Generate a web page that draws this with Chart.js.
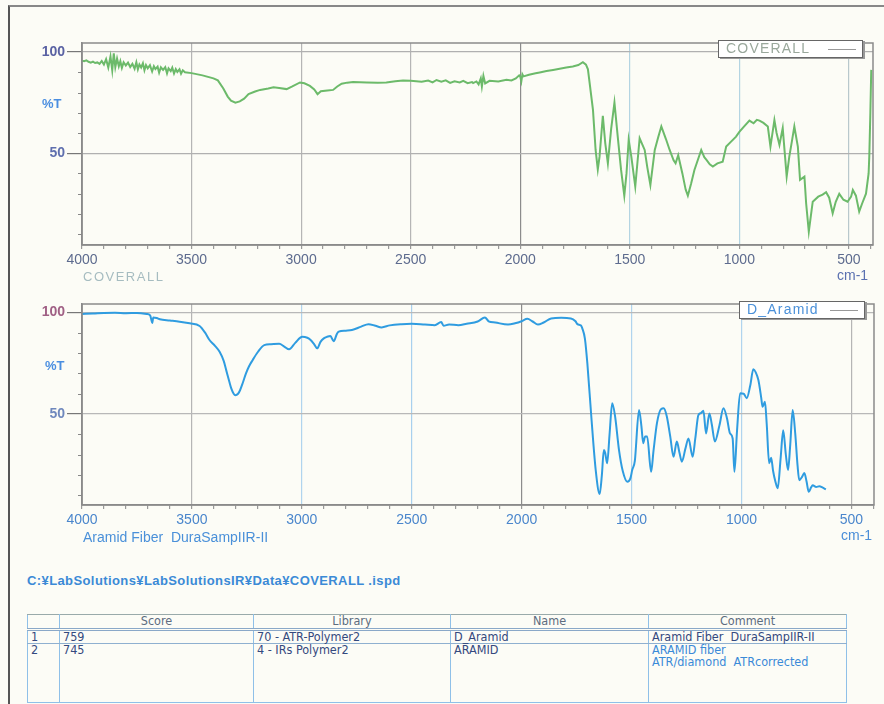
<!DOCTYPE html>
<html>
<head>
<meta charset="utf-8">
<script src="https://cdn.jsdelivr.net/npm/chart.js@4.4.0/dist/chart.umd.min.js"></script>
<style>
  body { margin: 0; background: #fcfcf6; width: 884px; height: 704px; overflow: hidden; position: relative; font-family: "Liberation Sans", Arial, sans-serif; }
  .frame { position: absolute; left: 8px; top: 5px; width: 890px; height: 720px; border-left: 2px solid #555; border-top: 2px solid #888; }
  canvas { position: absolute; }
  .lbl { position: absolute; white-space: nowrap; line-height: 1; }
  .legend { position: absolute; background: #fff; border: 1.5px solid #666; box-shadow: 2px 1px 0 #999; font-size: 14px; line-height: 15px; box-sizing: border-box; }
  .legend span { position: absolute; left: 7px; top: 0px; letter-spacing: 1.2px; }
  .legend i { position: absolute; right: 6px; top: 8px; width: 28px; border-top: 1.5px solid #999; }
  table.res { position: absolute; left: 27px; top: 614px; border-collapse: collapse; font-family: "Liberation Sans Narrow", "DejaVu Sans Condensed", sans-serif; font-stretch: condensed; font-size: 12.5px; color: #34497e; }
  table.res td, table.res th { border-left: 1px solid #8fc0e8; border-right: 1px solid #8fc0e8; padding: 0 3px; vertical-align: top; line-height: 12px; }
  table.res th { font-weight: normal; color: #5d6c80; border-top: 1.5px solid #9aa; border-bottom: 3px double #8aa8c8; height: 13px; }
  table.res tr.r1 td { border-bottom: 1.5px solid #8fb0d0; height: 12px; }
  table.res tr.r2 td { height: 58px; border-bottom: 1px solid #8fc0e8; }
</style>
</head>
<body>
<div class="frame"></div>

<canvas id="top" width="884" height="240" style="left:0;top:30px"></canvas>
<canvas id="bottom" width="884" height="240" style="left:0;top:290px"></canvas>

<div class="lbl" style="left:42px;top:97px;font-size:13px;font-weight:bold;color:#4a8ee0">%T</div>
<div class="lbl" style="left:83px;top:270px;font-size:13px;letter-spacing:1.5px;color:#a6bcc0">COVERALL</div>
<div class="lbl" style="left:837px;top:268px;font-size:14px;color:#5a70b0">cm-1</div>
<div class="legend" style="left:718px;top:40px;width:145px;height:18px;color:#9aa89c"><span>COVERALL</span><i></i></div>

<div class="lbl" style="left:45px;top:359px;font-size:13px;font-weight:bold;color:#4a8ee0">%T</div>
<div class="lbl" style="left:83px;top:530px;font-size:14px;color:#4a90d9">Aramid Fiber&nbsp; DuraSampIIR-II</div>
<div class="lbl" style="left:841px;top:528px;font-size:14px;color:#4a8ed8">cm-1</div>
<div class="legend" style="left:739px;top:301px;width:126px;height:18px;color:#4a90d9"><span>D_Aramid</span><i></i></div>

<div class="lbl" style="left:27px;top:574px;font-size:13px;letter-spacing:0.4px;font-weight:bold;color:#3b8ad6">C:¥LabSolutions¥LabSolutionsIR¥Data¥COVERALL .ispd</div>

<table class="res">
  <tr><th style="width:25px"></th><th style="width:187px">Score</th><th style="width:190px">Library</th><th style="width:191px">Name</th><th style="width:191px">Comment</th></tr>
  <tr class="r1"><td>1</td><td>759</td><td>70 - ATR-Polymer2</td><td>D_Aramid</td><td>Aramid Fiber&nbsp; DuraSampIIR-II</td></tr>
  <tr class="r2"><td>2</td><td>745</td><td>4 - IRs Polymer2</td><td>ARAMID</td><td style="color:#3a8ad8">ARAMID fiber<br>ATR/diamond&nbsp; ATRcorrected</td></tr>
</table>

<script>
// COVERALL sample spectrum (wavenumber cm-1, %T)
const coverallWn = [4000,3990,3980,3970,3960,3950,3940,3930,3920,3910,3900,3890,3880,3870,3862,3855,3848,3840,3832,3825,3818,3810,3800,3790,3780,3770,3760,3752,3745,3738,3730,3722,3715,3708,3700,3690,3680,3672,3665,3655,3648,3640,3630,3620,3612,3605,3595,3588,3580,3572,3565,3555,3548,3540,3530,3500,3450,3400,3380,3355,3335,3320,3300,3280,3260,3240,3210,3187,3150,3126,3100,3066,3040,3005,2985,2960,2940,2925,2910,2880,2854,2835,2815,2790,2763,2700,2650,2611,2570,2535,2500,2450,2420,2400,2382,2360,2340,2320,2300,2276,2260,2240,2220,2215,2200,2190,2180,2175,2168,2160,2140,2100,2063,2040,2020,2005,2000,1995,1990,1985,1960,1930,1911,1880,1850,1820,1790,1760,1735,1714,1700,1691,1668,1656,1646,1638,1623,1612,1600,1585,1570,1555,1540,1525,1515,1505,1493,1475,1455,1432,1420,1406,1386,1370,1356,1335,1318,1300,1291,1279,1260,1245,1235,1220,1205,1174,1160,1150,1135,1121,1100,1076,1060,1040,1015,1000,980,954,935,920,908,890,870,858,840,830,817,802,784,772,760,749,733,723,703,695,683,670,665,640,620,604,590,574,560,544,525,506,490,482,468,453,440,422,410,407,402,398];
const coverallT = [95.8,95.5,95.9,95.2,94.8,95.3,94.6,94.9,94.2,95.6,93.8,96.5,92.4,97.8,91.0,99.4,92.5,96.8,93.0,95.5,92.2,95.0,93.4,94.8,92.6,94.2,91.8,95.0,91.5,93.9,92.4,94.5,91.0,93.6,92.0,93.5,90.4,93.0,91.6,92.8,89.8,92.5,91.2,92.6,89.5,92.0,90.6,92.3,89.4,91.6,90.2,91.5,89.3,91.0,90.0,89.6,88.5,87.0,86.0,82.0,78.0,76.0,75.0,75.6,77.0,79.2,80.5,81.3,82.0,82.6,82.2,81.7,83.0,85.0,84.6,83.3,81.5,79.2,80.6,81.0,81.3,83.0,84.4,84.9,85.2,85.0,84.8,85.0,85.6,86.0,85.8,85.3,85.9,85.0,86.2,85.4,86.0,84.8,85.6,85.0,85.8,84.6,85.2,84.7,85.5,84.0,87.0,83.0,88.2,84.5,85.8,85.5,86.3,86.0,87.0,88.5,87.9,85.5,89.0,88.0,88.8,89.5,89.9,90.6,91.2,91.8,92.4,92.9,93.6,95.0,93.8,91.5,71.4,51.6,42.0,48.3,68.5,55.0,45.0,62.0,75.0,58.2,42.0,29.0,40.0,56.6,48.3,33.5,57.4,51.6,43.0,34.3,51.6,58.0,63.2,57.0,51.6,46.5,45.0,49.0,40.0,32.0,29.0,35.0,41.7,51.6,48.0,46.7,44.5,43.4,45.0,45.8,53.3,55.5,58.2,60.5,63.0,66.1,64.8,66.5,66.1,65.0,63.2,53.3,66.4,60.0,54.1,62.4,38.4,48.3,56.0,63.2,53.3,36.8,38.4,25.0,11.2,22.0,26.0,28.5,29.5,30.7,28.0,20.3,26.0,29.9,27.0,26.0,28.5,31.8,29.0,21.1,25.0,30.0,40.0,48.3,70.0,91.2];

// D_Aramid library spectrum
const aramidWn = [4000,3950,3900,3850,3800,3750,3706,3690,3680,3676,3660,3646,3600,3556,3510,3465,3440,3420,3395,3374,3355,3344,3330,3321,3310,3302,3290,3281,3268,3254,3240,3224,3200,3171,3140,3103,3080,3058,3030,2998,2975,2960,2945,2930,2915,2900,2885,2870,2855,2840,2832,2800,2772,2730,2697,2665,2637,2600,2546,2500,2440,2395,2366,2355,2330,2288,2250,2200,2167,2150,2120,2062,2030,2000,1974,1950,1926,1900,1866,1820,1776,1755,1746,1730,1724,1712,1701,1683,1663,1645,1635,1626,1620,1611,1600,1588,1575,1557,1540,1519,1505,1497,1485,1466,1455,1447,1438,1429,1411,1400,1384,1365,1354,1340,1324,1309,1294,1282,1271,1255,1241,1222,1210,1196,1184,1173,1161,1146,1135,1121,1100,1082,1066,1052,1040,1032,1020,1006,990,976,960,946,935,923,910,904,893,885,874,865,856,846,835,822,810,798,788,778,767,755,745,737,725,714,704,694,683,676,660,646,630,616];
const aramidT = [99.2,99.4,99.7,99.8,99.6,99.7,99.2,98.5,94.8,97.5,97.2,96.6,96.0,95.4,94.6,93.3,90.0,86.4,83.5,80.6,76.0,71.6,66.0,62.6,60.0,59.3,60.0,61.7,65.5,70.0,73.5,76.5,80.5,83.9,84.3,84.5,83.2,81.8,85.0,88.0,87.5,86.4,84.5,82.3,85.5,87.2,88.0,88.4,85.8,89.5,90.5,91.0,91.3,93.0,94.2,93.4,92.6,93.6,94.2,94.4,94.0,93.7,95.2,93.4,94.0,93.7,94.4,95.5,97.5,95.6,95.0,94.0,94.6,95.6,96.8,95.5,94.0,95.0,97.0,97.3,97.0,95.6,94.2,93.5,92.1,87.0,74.9,48.7,22.5,10.7,20.0,32.3,31.0,25.8,40.0,55.3,49.0,32.3,22.0,16.7,18.5,22.5,27.0,52.0,44.0,35.7,39.0,39.0,21.6,32.0,45.8,52.5,52.8,49.0,39.0,29.0,36.5,31.0,26.6,33.0,38.0,29.0,38.0,49.5,50.5,51.6,40.5,50.3,45.0,36.5,44.5,52.8,48.0,40.5,38.0,21.6,42.0,60.2,60.0,57.8,64.0,72.0,70.5,66.7,58.0,53.6,56.0,45.0,25.8,28.5,22.0,17.0,13.5,28.0,42.0,30.0,22.5,35.0,52.0,40.0,25.0,17.5,19.0,21.0,17.0,11.8,14.0,15.0,14.2,14.5,13.8,13.0];

// wavenumber ticks: every 100 cm-1, labelled every 500
const xTickValues = [4000,3900,3800,3700,3600,3500,3400,3300,3200,3100,3000,2900,2800,2700,2600,2500,2400,2300,2200,2100,2000,1900,1800,1700,1600,1500,1400,1300,1200,1100,1000,900,800,700,600,500,400];
const xLabelValues = [4000, 3500, 3000, 2500, 2000, 1500, 1000, 500];
const yTickValues = [10, 20, 30, 40, 50, 60, 70, 80, 90, 100];
const yLabelValues = [50, 100];

const fontFamily = "'Liberation Sans', Arial, sans-serif";

// frame around the plot area + short minor ticks on the %T axis
const framePlugin = {
  id: "frame",
  afterDraw(chart) {
    const { ctx, chartArea: a, scales } = chart;
    ctx.save();
    ctx.strokeStyle = "#8a8a8a";
    ctx.lineWidth = 1.5;
    ctx.strokeRect(a.left, a.top, a.right - a.left, a.bottom - a.top);
    ctx.strokeStyle = "#888";
    ctx.lineWidth = 1;
    yTickValues.forEach(v => {
      if (yLabelValues.includes(v)) return;
      const py = Math.round(scales.y.getPixelForValue(v)) + 0.5;
      ctx.beginPath();
      ctx.moveTo(a.left - 4, py);
      ctx.lineTo(a.left, py);
      ctx.stroke();
    });
    ctx.restore();
  }
};

function makeChart(id, wn, t, color, opts) {
  const points = wn.map((w, i) => ({ x: w, y: t[i] }));
  return new Chart(document.getElementById(id), {
    type: "line",
    data: {
      datasets: [{
        data: points,
        borderColor: color,
        borderWidth: 2,
        pointRadius: 0,
        cubicInterpolationMode: opts.smooth ? "monotone" : "default",
        tension: opts.smooth ? 0.4 : 0,
      }]
    },
    options: {
      responsive: false,
      animation: false,
      layout: { padding: { top: opts.padTop, right: opts.padRight, left: 0, bottom: 0 } },
      plugins: { legend: { display: false }, tooltip: { enabled: false } },
      scales: {
        x: {
          type: "linear",
          reverse: true,
          min: opts.xMin,
          max: 4000,
          afterFit: s => { s.height = 25; },
          afterBuildTicks: s => { s.ticks = xTickValues.map(v => ({ value: v })); },
          ticks: {
            autoSkip: false,
            maxRotation: 0,
            padding: 3,
            color: opts.xLabelColor,
            font: { family: fontFamily, size: 14 },
            callback: v => (xLabelValues.includes(v) ? String(v) : "")
          },
          grid: {
            color: c => (c.tick && xLabelValues.includes(c.tick.value) ? (opts.vGrid[c.tick.value] || "#b8b8b8") : "transparent"),
            tickColor: "#999",
            tickLength: 4,
            lineWidth: 1.2
          },
          border: { color: "#8a8a8a", width: 1.5 }
        },
        y: {
          min: opts.yMin,
          max: opts.yMax,
          afterFit: s => { s.width = 82; },
          afterBuildTicks: s => { s.ticks = yTickValues.map(v => ({ value: v })); },
          ticks: {
            padding: 2,
            color: c => (c.tick.value === 100 ? opts.y100Color : opts.y50Color),
            font: { family: fontFamily, size: 14, weight: "bold" },
            callback: v => (yLabelValues.includes(v) ? String(v) : "")
          },
          grid: {
            color: c => (yLabelValues.includes(c.tick.value) ? opts.hGrid : "transparent"),
            tickColor: c => (yLabelValues.includes(c.tick.value) ? "#777" : "transparent"),
            tickLength: 15,
            lineWidth: 1.2
          },
          border: { color: "#8a8a8a", width: 1.5 }
        }
      }
    },
    plugins: [framePlugin]
  });
}

makeChart("top", coverallWn, coverallT, "#6cba6a", {
  smooth: false, xMin: 390, yMin: 4.6, yMax: 104.5, padTop: 13, padRight: 11,
  xLabelColor: "#5d6b8e", y100Color: "#5a62a3", y50Color: "#5f6fae", hGrid: "#b0b0b0",
  vGrid: { 3500: "#b5b5b5", 3000: "#b5b5b5", 2500: "#b5b5b5", 2000: "#8c8c8c", 1500: "#b3d4e2", 1000: "#b3d4e2", 500: "#b8c8cc" }
});

makeChart("bottom", aramidWn, aramidT, "#2f9ce0", {
  smooth: true, xMin: 397, yMin: 5.3, yMax: 104.1, padTop: 14, padRight: 10,
  xLabelColor: "#4a86cc", y100Color: "#a06085", y50Color: "#6f88bd", hGrid: "#b8b8b8",
  vGrid: { 3500: "#b5b5b5", 3000: "#b0d4ee", 2500: "#a8d0ee", 2000: "#8c8c8c", 1500: "#b0d4ee", 1000: "#b0d4ee", 500: "#b5b5b5" }
});
</script>
</body>
</html>
